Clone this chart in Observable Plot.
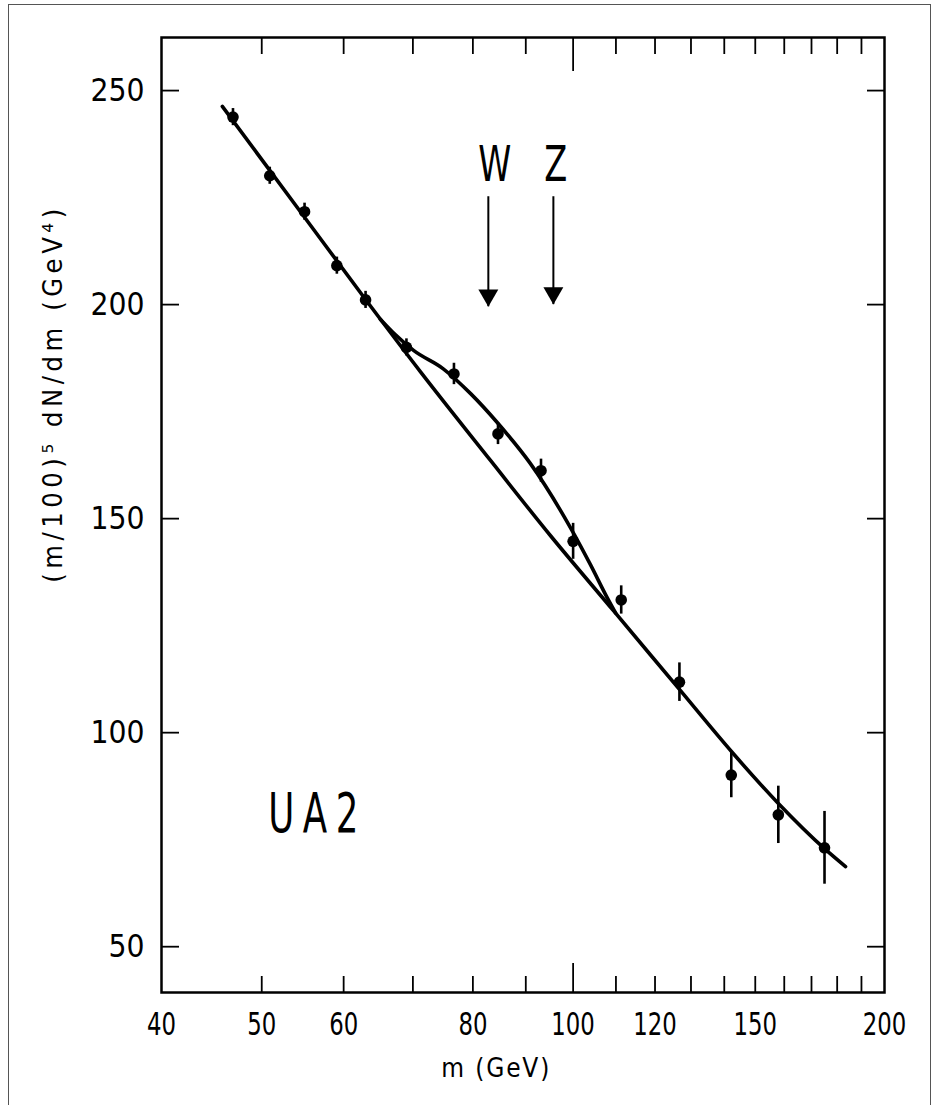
<!DOCTYPE html>
<html><head><meta charset="utf-8">
<script src="https://cdn.jsdelivr.net/npm/d3@7"></script>
<script src="https://cdn.jsdelivr.net/npm/@observablehq/plot@0.6"></script>
<style>
body{margin:0;background:#fff;}
#wrap{position:relative;width:936px;height:1105px;overflow:hidden;}
#border{position:absolute;left:8px;top:4px;width:923px;height:1120px;border:1.5px solid #555;box-sizing:border-box;}
#chart{position:absolute;left:0;top:0;}
</style></head><body>
<div id="wrap"><div id="border"></div><div id="chart"></div></div>
<script>
// measured data points (m in GeV, (m/100)^5 dN/dm in GeV^4)
const mass  = [46.9, 50.9, 55.0, 59.1, 63.0, 69.0, 76.7, 84.6, 93.1, 100.0, 111.3, 126.7, 142.2, 157.9, 175.0];
const value = [243.8, 230.1, 221.7, 209.1, 201.1, 190.0, 183.8, 169.8, 161.2, 144.7, 131.0, 111.8, 90.1, 80.8, 73.1];
const error = [2.0, 2.0, 2.0, 2.0, 2.0, 2.0, 2.5, 2.5, 2.7, 4.2, 3.3, 4.5, 5.3, 6.7, 8.5];

// background fit curve
const bgMass  = [45.8, 54.5, 63.0, 71.2, 83.2, 95.1, 109.4, 127.0, 142.6, 158.0, 175.0, 183.4];
const bgValue = [246.3, 221.7, 201.2, 184.3, 163.6, 146.0, 128.5, 109.8, 95.3, 83.4, 72.9, 68.7];

// background + W/Z signal curve
const sigMass  = [65.1, 67.3, 70.1, 74.9, 79.6, 84.5, 90.9, 99.4, 103.9, 108.0, 109.9];
const sigValue = [196.6, 193.0, 189.3, 185.0, 179.2, 172.4, 162.9, 147.9, 139.3, 131.3, 128.0];

// arrows marking the W and Z masses
const arrowNames     = ["W", "Z"];
const arrowMass      = [82.8, 95.7];
const arrowLabelMass = [84.0, 96.2];
const arrowTop       = [225.2, 225.2];
const arrowTip       = [199.5, 200.0];
const arrowLabelY    = [232.5, 232.5];

// axes and texts
const xTickLabels = [40, 50, 60, 80, 100, 120, 150, 200];
const xMinorTicks = [50, 60, 70, 80, 90, 110, 120, 130, 140, 150, 160, 170, 180, 190];
const xMajorTicks = [100];
const yTicks = [50, 100, 150, 200, 250];
const xTitle = "m (GeV)";
const yTitle = "(m/100)⁵ dN/dm (GeV⁴)";
const experiment = "UA2";

const points = mass.map((m, i) => ({m, v: value[i], lo: value[i] - error[i], hi: value[i] + error[i]}));
const bg = bgMass.map((m, i) => ({m, v: bgValue[i]}));
const sig = sigMass.map((m, i) => ({m, v: sigValue[i]}));
const arrows = arrowNames.map((n, i) => ({n, m: arrowMass[i], lm: arrowLabelMass[i], top: arrowTop[i], tip: arrowTip[i], ly: arrowLabelY[i]}));

const FONT = '"DejaVu Sans Condensed", "DejaVu Sans", sans-serif';

const chart = Plot.plot({
  width: 936, height: 1105,
  marginLeft: 161, marginRight: 52, marginTop: 37, marginBottom: 113,
  style: {fontFamily: FONT, color: "#000", background: "transparent"},
  x: {type: "log", domain: [40, 200], axis: null},
  y: {domain: [39.3, 262.4], axis: null},
  marks: [
    Plot.frame({stroke: "#000", strokeWidth: 2.5}),
    Plot.axisX(xMinorTicks, {anchor: "bottom", tickSize: -16, strokeWidth: 1.8, tickFormat: () => "", label: null}),
    Plot.axisX(xMinorTicks, {anchor: "top", tickSize: -16, strokeWidth: 1.8, tickFormat: () => "", label: null}),
    Plot.axisX(xMajorTicks, {anchor: "bottom", tickSize: -29, strokeWidth: 1.8, tickFormat: () => "", label: null}),
    Plot.axisX(xMajorTicks, {anchor: "top", tickSize: -33, strokeWidth: 1.8, tickFormat: () => "", label: null}),
    Plot.axisX(xTickLabels, {anchor: "bottom", tickSize: 0, tickPadding: 20, fontSize: 32, label: null, tickFormat: d => String(d)}),
    Plot.axisY(yTicks, {anchor: "left", tickSize: -18, strokeWidth: 1.8, tickFormat: () => "", label: null}),
    Plot.axisY(yTicks, {anchor: "right", tickSize: -18, strokeWidth: 1.8, tickFormat: () => "", label: null}),
    Plot.axisY(yTicks, {anchor: "left", tickSize: 0, tickPadding: 17, fontSize: 32, label: null, tickFormat: d => String(d)}),
    Plot.text([xTitle], {frameAnchor: "bottom", x: [84.1], text: d => d, dy: 76, fontSize: 26, lineAnchor: "middle"}),
    Plot.text([yTitle], {frameAnchor: "left", y: [135], text: d => d, dx: -108, rotate: -90, fontSize: 27, lineAnchor: "middle"}),
    Plot.line(bg, {x: "m", y: "v", curve: "monotone-x", stroke: "#000", strokeWidth: 3.6}),
    Plot.line(sig, {x: "m", y: "v", curve: "monotone-x", stroke: "#000", strokeWidth: 3.6}),
    Plot.ruleX(points, {x: "m", y1: "lo", y2: "hi", stroke: "#000", strokeWidth: 2.6}),
    Plot.dot(points, {x: "m", y: "v", r: 5.8, fill: "#000", stroke: null}),
    Plot.ruleX(arrows, {x: "m", y1: "top", y2: "tip", stroke: "#000", strokeWidth: 2}),
    Plot.dot(arrows, {x: "m", y: "tip", symbol: "triangle", rotate: 180, r: 7.4, dy: -11.5, fill: "#000", stroke: null}),
    Plot.text(arrows, {x: "lm", y: "ly", text: "n", fontSize: 50, lineAnchor: "middle"}),
    Plot.text([experiment], {x: [56], y: [81], text: d => d, fontSize: 55, lineAnchor: "middle", dx: 5})
  ]
});
document.getElementById("chart").appendChild(chart);
const svg = d3.select(chart);
function fit(sel, lenFn, adjust) {
  sel.each(function() {
    const n = this.textContent.length;
    if (!n) return;
    this.setAttribute("textLength", lenFn(this.textContent));
    this.setAttribute("lengthAdjust", adjust);
  });
}
fit(svg.selectAll('g[aria-label="y-axis tick label"] text'), t => 18 * t.length, "spacingAndGlyphs");
fit(svg.selectAll('g[aria-label="x-axis tick label"] text'), t => 14.5 * t.length, "spacingAndGlyphs");
const texts = svg.selectAll('g[aria-label="text"] text');
fit(texts.filter(function(){ return this.textContent === yTitle; }), () => 374, "spacing");
fit(texts.filter(function(){ return this.textContent === xTitle; }), () => 108, "spacing");
fit(texts.filter(function(){ return this.textContent === "W"; }), () => 33, "spacingAndGlyphs");
fit(texts.filter(function(){ return this.textContent === "Z"; }), () => 23, "spacingAndGlyphs");
// narrow, spaced lettering for the experiment name
texts.filter(function(){ return this.textContent === experiment; }).each(function() {
  const t = this.getAttribute("transform") || "";
  this.setAttribute("transform", t + " scale(0.72,1)");
  this.setAttribute("letter-spacing", "12px");
});
</script>
</body></html>
